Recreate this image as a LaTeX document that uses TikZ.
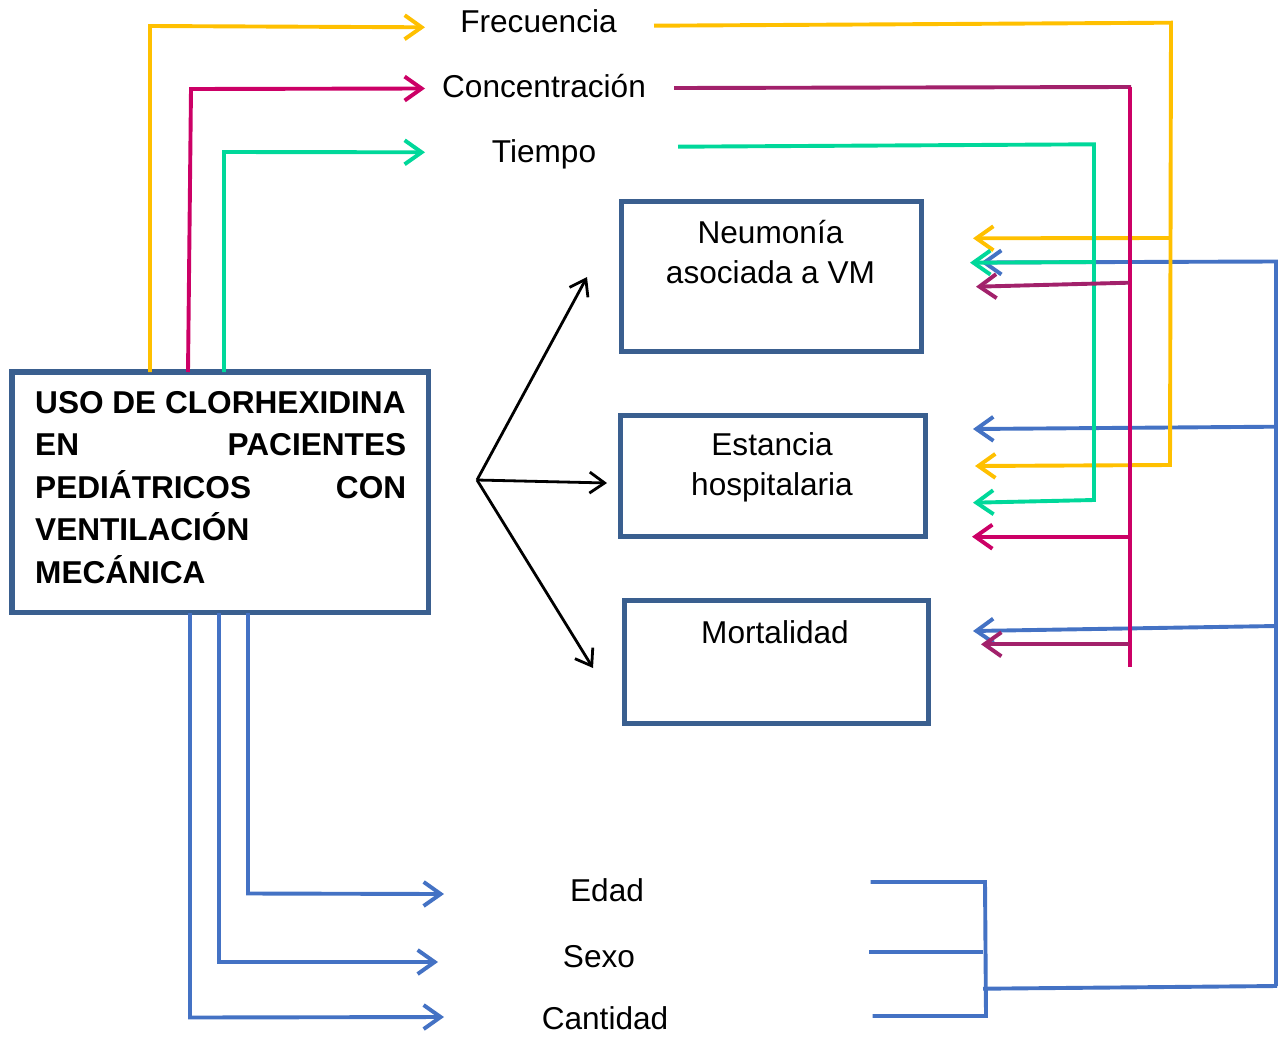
\documentclass[tikz,border=0pt]{standalone}
\usepackage{fontspec}
\setmainfont{Liberation Sans}
\usetikzlibrary{arrows.meta}
\definecolor{cyel}{HTML}{FFC000}
\definecolor{cmag}{HTML}{CC0066}
\definecolor{cpur}{HTML}{A2216B}
\definecolor{cteal}{HTML}{00D89A}
\definecolor{cblue}{HTML}{4472C4}
\definecolor{cbox}{HTML}{3A5F8F}
\tikzset{
  lbl/.style={inner sep=0pt, anchor=base, font=\fontsize{31.6}{38}\selectfont},
  boxnode/.style={draw=cbox, line width=5pt, inner sep=0pt, fill=none},
  conn/.style={line width=3.9pt, line join=miter},
  arr/.style={-{Straight Barb[length=17pt,width=24pt]}},
  blk/.style={line width=2.8pt, black, -{Straight Barb[length=15pt,width=21pt]}},
}
\begin{document}
\begin{tikzpicture}[x=1pt,y=-1pt]
\useasboundingbox (0,0) rectangle (1279,1036);
\fill[white] (0,0) rectangle (1279,1036);

% ---------- boxes ----------
\node[boxnode, line width=5.5pt, minimum width=416.5pt, minimum height=240.5pt] (main) at (220.25,492.25) {};
\node[anchor=base west, inner sep=0pt, font=\bfseries\fontsize{31.6}{42.5}\selectfont] (maintext) at (35,413.3)
 {\vtop{\baselineskip=42.5pt
   \hbox to 371pt{USO DE CLORHEXIDINA\hfil}
   \hbox to 371pt{EN\hfill PACIENTES}
   \hbox to 371pt{PEDIÁTRICOS\hfill CON}
   \hbox to 371pt{VENTILACIÓN\hfil}
   \hbox to 371pt{MECÁNICA\hfil}}};

\node[boxnode, minimum width=300pt, minimum height=150pt] (neu) at (771,276) {};
\node[lbl] (neuT) at (770.5,243.3) {\vtop{\baselineskip=40pt\halign{\hfil#\hfil\cr Neumonía\cr asociada a VM\cr}}};
\node[boxnode, minimum width=304.5pt, minimum height=121pt] (est) at (772.75,475.5) {};
\node[lbl] (estT) at (772,455) {\vtop{\baselineskip=40pt\halign{\hfil#\hfil\cr Estancia\cr hospitalaria\cr}}};
\node[boxnode, minimum width=304pt, minimum height=123pt] (mor) at (776,661.5) {};
\node[lbl] (morT) at (775,643.3) {Mortalidad};

% ---------- labels ----------
\node[lbl] (frec) at (538.5,32.3) {Frecuencia};
\node[lbl] (conc) at (544,97.3) {Concentración};
\node[lbl] (tiem) at (544,162.3) {Tiempo};
\node[lbl] (edad) at (607,901.7) {Edad};
\node[lbl] (sexo) at (599,967) {Sexo};
\node[lbl] (cant) at (605,1029) {Cantidad};

% ---------- coordinates ----------
\coordinate (yS) at (150,372);   \coordinate (yC) at (150,26);   \coordinate (yT) at (425,27.3);
\coordinate (mS) at (188,372);   \coordinate (mC) at (191,89);   \coordinate (mT) at (425,88.5);
\coordinate (tS) at (224,372);   \coordinate (tC) at (224,152);  \coordinate (tT) at (425,152.3);

\coordinate (yR0) at (654,25.7); \coordinate (yR1) at (1171,22.7); \coordinate (yR2) at (1170,465);
\coordinate (yA1) at (973,238.3); \coordinate (yB1) at (1170,238); \coordinate (yA2) at (975,466);
\coordinate (pR0) at (674,88);   \coordinate (pR1) at (1131,87);
\coordinate (mV0) at (1130,87);  \coordinate (mV1) at (1130,667);
\coordinate (pB1) at (1129,282.7); \coordinate (pA1) at (976,286.7);
\coordinate (mB2) at (1130,536.7); \coordinate (mA2) at (972,536.7);
\coordinate (pB3) at (1129,644.3); \coordinate (pA3) at (981,644.3);
\coordinate (tR0) at (678,146.7); \coordinate (tR1) at (1094,144.3); \coordinate (tR2) at (1094,500);
\coordinate (tA2) at (973,502.7); \coordinate (tB1) at (1094,262); \coordinate (tA1) at (970,262.7);
\coordinate (bV0) at (1276,986); \coordinate (bV1) at (1276,261.5); \coordinate (bA1) at (981,262.5);
\coordinate (bB2) at (1276,426.7); \coordinate (bA2) at (973,429);
\coordinate (bB3) at (1276,626); \coordinate (bA3) at (973,631);
\coordinate (bL0) at (983,988.7); \coordinate (bL1) at (1277,986);
\coordinate (k1) at (870.7,882); \coordinate (k2) at (985,882); \coordinate (k3) at (986,1016); \coordinate (k4) at (872.7,1016);
\coordinate (k5) at (869,951.7); \coordinate (k6) at (982.7,951.7);

\coordinate (eS) at (248,613); \coordinate (eC) at (248,893.5); \coordinate (eT) at (444,894);
\coordinate (sS) at (219,613); \coordinate (sC) at (219,962);   \coordinate (sT) at (438,962);
\coordinate (cS) at (190,613); \coordinate (cC) at (190,1017.5); \coordinate (cT) at (444,1017);

\coordinate (hub) at (477,480);
\coordinate (h1) at (587,277); \coordinate (h2) at (607,483); \coordinate (h3) at (593,668);

% ---------- left connectors ----------
\draw[conn, cyel, arr] (yS) -- (yC) -- (yT);
\draw[conn, cmag, arr] (mS) -- (mC) -- (mT);
\draw[conn, cteal, arr] (tS) -- (tC) -- (tT);

\draw[conn, cblue, arr] (eS) -- (eC) -- (eT);
\draw[conn, cblue, arr] (sS) -- (sC) -- (sT);
\draw[conn, cblue, arr] (cS) -- (cC) -- (cT);

% ---------- right connectors ----------
\draw[conn, cblue, arr] (bV0) -- (bV1) -- (bA1);
\draw[conn, cblue, arr] (bB2) -- (bA2);
\draw[conn, cblue, arr] (bB3) -- (bA3);
\draw[conn, cblue] (bL0) -- (bL1);
\draw[conn, cblue] (k1) -- (k2) -- (k3) -- (k4);
\draw[conn, cblue] (k5) -- (k6);

\draw[conn, cyel, arr] (yR0) -- (yR1) -- (yR2) -- (yA2);
\draw[conn, cyel, arr] (yB1) -- (yA1);

\draw[conn, cteal, arr] (tR0) -- (tR1) -- (tR2) -- (tA2);
\draw[conn, cteal, arr] (tB1) -- (tA1);

\draw[conn, cpur] (pR0) -- (pR1);
\draw[conn, cmag] (mV0) -- (mV1);
\draw[conn, cpur, arr] (pB1) -- (pA1);
\draw[conn, cmag, arr] (mB2) -- (mA2);
\draw[conn, cpur, arr] (pB3) -- (pA3);

% ---------- black arrows ----------
\draw[blk] (hub) -- (h1);
\draw[blk] (hub) -- (h2);
\draw[blk] (hub) -- (h3);
\end{tikzpicture}
\end{document}
